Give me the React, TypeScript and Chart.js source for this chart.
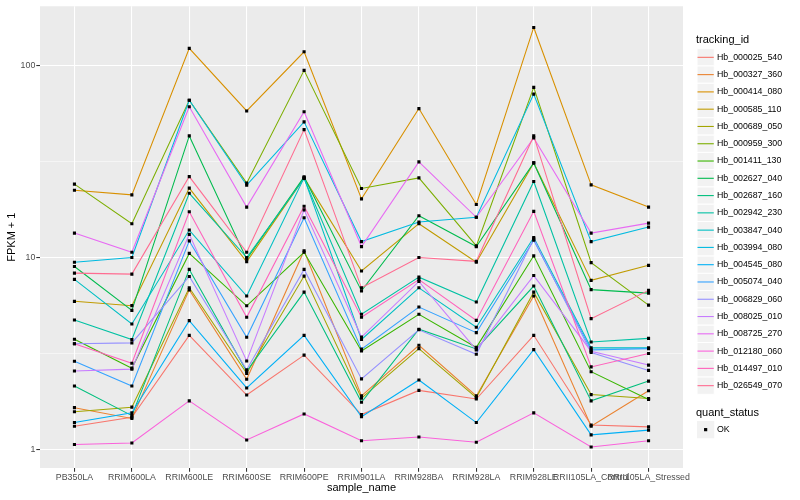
import { useEffect, useRef } from "react";
import { Chart, registerables } from "chart.js";

Chart.register(...registerables);

const categories = [
  "PB350LA",
  "RRIM600LA",
  "RRIM600LE",
  "RRIM600SE",
  "RRIM600PE",
  "RRIM901LA",
  "RRIM928BA",
  "RRIM928LA",
  "RRIM928LE",
  "RRII105LA_Control",
  "RRII105LA_Stressed",
];

const seriesNames = [
  "Hb_000025_540",
  "Hb_000327_360",
  "Hb_000414_080",
  "Hb_000585_110",
  "Hb_000689_050",
  "Hb_000959_300",
  "Hb_001411_130",
  "Hb_002627_040",
  "Hb_002687_160",
  "Hb_002942_230",
  "Hb_003847_040",
  "Hb_003994_080",
  "Hb_004545_080",
  "Hb_005074_040",
  "Hb_006829_060",
  "Hb_008025_010",
  "Hb_008725_270",
  "Hb_012180_060",
  "Hb_014497_010",
  "Hb_026549_070",
];

// FPKM + 1 values, one array per tracking_id, in category order
const hb_000025_540 = [1.32, 1.47, 3.93, 1.92, 3.1, 1.52, 2.03, 1.83, 3.93, 1.34, 1.31];
const hb_000327_360 = [1.65, 1.45, 6.78, 2.32, 10.85, 1.9, 3.49, 1.9, 6.3, 1.32, 2.02];
const hb_000414_080 = [22.4, 21.2, 123, 58, 118, 20.2, 59.7, 18.9, 158, 23.9, 18.3];
const hb_000585_110 = [5.91, 5.61, 23, 9.5, 26, 8.5, 15, 9.45, 31.1, 7.6, 9.1];
const hb_000689_050 = [1.57, 1.66, 6.95, 2.49, 8.0, 1.85, 3.35, 1.86, 6.6, 1.93, 1.84];
const hb_000959_300 = [24.1, 15.0, 66, 24.4, 94.4, 22.9, 26.0, 11.5, 77, 9.4, 5.65];
const hb_001411_130 = [3.75, 2.65, 10.5, 5.6, 10.65, 3.26, 5.06, 3.4, 10.2, 2.54, 1.82];
const hb_002627_040 = [8.98, 5.3, 43, 9.8, 26.3, 6.7, 16.5, 11.4, 31.1, 6.8, 6.52];
const hb_002687_160 = [2.14, 1.5, 8.67, 2.55, 6.6, 1.76, 4.23, 3.34, 7.1, 1.79, 2.27];
const hb_002942_230 = [4.72, 3.74, 21.6, 10.0, 25.8, 5.06, 7.9, 5.86, 24.9, 3.63, 3.79];
const hb_003847_040 = [7.69, 4.5, 13.9, 6.3, 26.0, 3.74, 6.95, 4.33, 12.7, 3.38, 3.38];
const hb_003994_080 = [9.45, 10.0, 66, 23.8, 50.9, 12.1, 15.3, 16.2, 71, 12.1, 14.4];
const hb_004545_080 = [1.38, 1.55, 4.69, 2.09, 3.93, 1.48, 2.3, 1.38, 3.31, 1.19, 1.26];
const hb_005074_040 = [2.88, 2.14, 12.2, 3.84, 16.1, 3.33, 5.52, 4.06, 12.3, 3.3, 3.35];
const hb_006829_060 = [3.55, 3.59, 7.96, 2.6, 8.67, 2.33, 4.2, 3.13, 12.5, 3.2, 2.58];
const hb_008025_010 = [2.56, 2.62, 13.2, 2.89, 17.7, 3.85, 7.5, 3.3, 8.05, 3.25, 2.75];
const hb_008725_270 = [13.4, 10.65, 61, 18.3, 57.5, 11.4, 31.5, 16.2, 42, 13.4, 15.1];
const hb_012180_060 = [1.06, 1.08, 1.79, 1.12, 1.53, 1.11, 1.16, 1.09, 1.55, 1.03, 1.11];
const hb_014497_010 = [3.55, 2.81, 17.3, 4.88, 18.5, 4.88, 7.67, 4.7, 17.4, 2.69, 3.16];
const hb_026549_070 = [8.29, 8.19, 26.4, 10.65, 46.4, 6.95, 10.0, 9.55, 43, 4.8, 6.74];

const seriesValues = [
  hb_000025_540,
  hb_000327_360,
  hb_000414_080,
  hb_000585_110,
  hb_000689_050,
  hb_000959_300,
  hb_001411_130,
  hb_002627_040,
  hb_002687_160,
  hb_002942_230,
  hb_003847_040,
  hb_003994_080,
  hb_004545_080,
  hb_005074_040,
  hb_006829_060,
  hb_008025_010,
  hb_008725_270,
  hb_012180_060,
  hb_014497_010,
  hb_026549_070,
];

const yMajorTicks = [1, 10, 100];
const yMinorTicks = [3.1623, 31.623];

const palette = [
  "#F8766D", "#EA8331", "#D89000", "#C09B00", "#A3A500",
  "#7CAE00", "#39B600", "#00BB4E", "#00BF7D", "#00C1A3",
  "#00BFC4", "#00BAE0", "#00B0F6", "#35A2FF", "#9590FF",
  "#C77CFF", "#E76BF3", "#FA62DB", "#FF62BC", "#FF6C91",
];

const FONT = "'Liberation Sans', Arial, Helvetica, sans-serif";

const panelBg = {
  id: "panelBg",
  beforeDraw(chart: any) {
    const { ctx, chartArea } = chart;
    ctx.save();
    ctx.fillStyle = "#EBEBEB";
    ctx.fillRect(chartArea.left, chartArea.top, chartArea.right - chartArea.left, chartArea.bottom - chartArea.top);
    ctx.restore();
  },
};

const ggLegend = {
  id: "ggLegend",
  afterDraw(chart: any) {
    const ctx = chart.ctx;
    ctx.save();
    ctx.textAlign = "left";
    ctx.fillStyle = "#000";
    ctx.font = `11px ${FONT}`;
    ctx.textBaseline = "alphabetic";
    ctx.fillText("tracking_id", 696, 42.5);
    const keyX = 697;
    const keyW = 17.28;
    const top0 = 48.7;
    seriesNames.forEach((name, i) => {
      const y = top0 + i * keyW;
      ctx.fillStyle = "#F2F2F2";
      ctx.fillRect(keyX, y, keyW, keyW);
      ctx.strokeStyle = "#FFFFFF";
      ctx.lineWidth = 1;
      ctx.strokeRect(keyX, y, keyW, keyW);
      ctx.strokeStyle = palette[i];
      ctx.lineWidth = 1.1;
      ctx.beginPath();
      ctx.moveTo(keyX + 0.5, y + keyW / 2);
      ctx.lineTo(keyX + keyW - 0.5, y + keyW / 2);
      ctx.stroke();
      ctx.fillStyle = "#000";
      ctx.font = `8.8px ${FONT}`;
      ctx.textBaseline = "middle";
      ctx.fillText(name, 717, y + keyW / 2);
    });
    ctx.font = `11px ${FONT}`;
    ctx.textBaseline = "alphabetic";
    ctx.fillStyle = "#000";
    ctx.fillText("quant_status", 696, 416);
    const okTop = 421;
    ctx.fillStyle = "#F2F2F2";
    ctx.fillRect(keyX, okTop, keyW, keyW);
    ctx.fillStyle = "#000";
    ctx.fillRect(keyX + keyW / 2 - 1.6, okTop + keyW / 2 - 1.6, 3.2, 3.2);
    ctx.font = `8.8px ${FONT}`;
    ctx.textBaseline = "middle";
    ctx.fillText("OK", 717, okTop + keyW / 2);
    ctx.restore();
  },
};

export default function App() {
  const canvasRef = useRef<HTMLCanvasElement | null>(null);

  useEffect(() => {
    if (!canvasRef.current) return;
    Chart.defaults.font.family = FONT;

    const lineSets = seriesValues.map((vals, i) => ({
      type: "line" as const,
      label: seriesNames[i],
      data: vals.map((v, j) => ({ x: j, y: v })),
      borderColor: palette[i],
      backgroundColor: palette[i],
      borderWidth: 1.07,
      pointRadius: 0,
      fill: false,
      tension: 0,
      order: -i,
    }));

    const allPoints = seriesValues.flatMap((vals) => vals.map((v, j) => ({ x: j, y: v })));

    const chart = new Chart(canvasRef.current, {
      type: "line",
      data: {
        datasets: [
          ...lineSets,
          {
            type: "scatter" as const,
            label: "OK",
            data: allPoints,
            pointStyle: "rect",
            pointRadius: 2.2,
            pointBorderWidth: 0,
            backgroundColor: "#000000",
            borderColor: "#000000",
            showLine: false,
            order: -100,
          } as any,
        ],
      },
      options: {
        animation: false,
        responsive: false,
        events: [],
        layout: { padding: { left: 0, top: 5, right: 117, bottom: 0 } },
        plugins: {
          legend: { display: false },
          tooltip: { enabled: false },
        },
        scales: {
          x: {
            type: "linear",
            min: -0.6,
            max: 10.6,
            afterBuildTicks: (s: any) => {
              s.ticks = categories.map((_, i) => ({ value: i }));
            },
            afterFit: (s: any) => {
              s.height = 32;
            },
            ticks: {
              callback: (v: any) => categories[v as number] ?? "",
              autoSkip: false,
              maxRotation: 0,
              minRotation: 0,
              color: "#4D4D4D",
              font: { size: 8.8, family: FONT },
              padding: 0.5,
            },
            grid: {
              color: "#FFFFFF",
              lineWidth: 1.07,
              tickLength: 3.7,
              tickColor: "#333333",
              tickWidth: 1.07,
            },
            border: { display: false },
            title: {
              display: true,
              text: "sample_name",
              color: "#000000",
              font: { size: 11, family: FONT },
              padding: { top: 0, bottom: 5 },
            },
          },
          y: {
            type: "logarithmic",
            min: 0.8,
            max: 203.7,
            afterBuildTicks: (s: any) => {
              s.ticks = [...yMajorTicks, ...yMinorTicks].sort((a, b) => a - b).map((v) => ({ value: v }));
            },
            afterFit: (s: any) => {
              s.width = 40;
            },
            ticks: {
              callback: (v: any) => (yMajorTicks.includes(v as number) ? String(v) : ""),
              color: "#4D4D4D",
              font: { size: 8.8, family: FONT },
              padding: 1,
              autoSkip: false,
            },
            grid: {
              color: "#FFFFFF",
              lineWidth: (c: any) => (yMajorTicks.includes(c.tick?.value) ? 1.07 : 0.53),
              tickLength: 3.7,
              tickColor: (c: any) => (yMajorTicks.includes(c.tick?.value) ? "#333333" : "rgba(0,0,0,0)"),
              tickWidth: 1.07,
            },
            border: { display: false },
            title: {
              display: true,
              text: "FPKM + 1",
              color: "#000000",
              font: { size: 11, family: FONT },
              padding: { top: 5, bottom: 0 },
            },
          },
        },
      } as any,
      plugins: [panelBg, ggLegend],
    });

    return () => chart.destroy();
  }, []);

  return (
    <div style={{ position: "fixed", left: 0, top: 0, width: 800, height: 500, background: "#FFFFFF" }}>
      <canvas ref={canvasRef} width={800} height={500} />
    </div>
  );
}
